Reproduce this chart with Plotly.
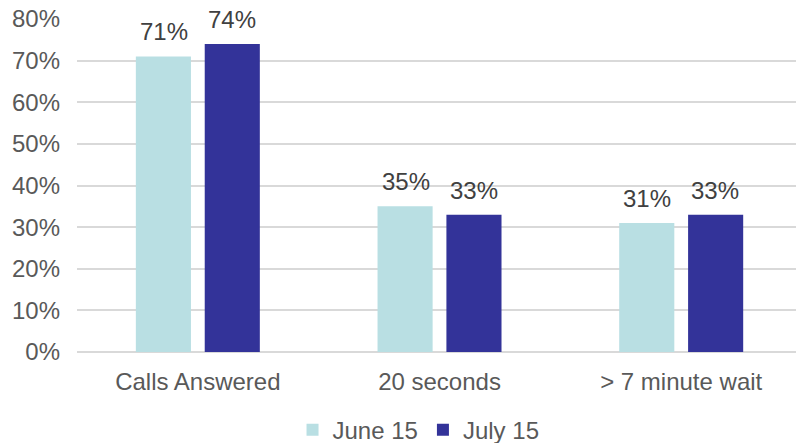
import plotly.graph_objects as go

categories = ["Calls Answered", "20 seconds", "> 7 minute wait"]
june_values = [71, 35, 31]
july_values = [74, 33, 33]
series_names = ["June 15", "July 15"]
tick_values = [0, 10, 20, 30, 40, 50, 60, 70, 80]
tick_labels = [f"{t}%" for t in tick_values]

FONT = "Liberation Sans, Arial, sans-serif"
colors = ["#B9DFE3", "#333399"]

fig = go.Figure()
for name, vals, col in zip(series_names, [june_values, july_values], colors):
    fig.add_trace(go.Bar(
        x=categories, y=vals, name=name, marker_color=col,
        marker_line_width=0, hoverinfo="skip",
    ))

# data labels above bars
offsets = [-34, 34]
for vals, dx in zip([june_values, july_values], offsets):
    for c, v in zip(categories, vals):
        fig.add_annotation(
            x=c, y=v, text=f"{v}%", showarrow=False,
            xshift=dx, yshift=9, yanchor="bottom",
            font=dict(family=FONT, size=24, color="#404040"),
        )

fig.update_layout(
    width=796, height=443,
    margin=dict(l=77, r=0, t=19, b=91, autoexpand=False),
    paper_bgcolor="white", plot_bgcolor="white",
    barmode="group", bargap=0.43, bargroupgap=0.2,
    font=dict(family=FONT, size=24, color="#595959"),
    showlegend=True,
    legend=dict(
        orientation="h", x=0.475, xanchor="center", y=-0.235, yanchor="middle",
        font=dict(family=FONT, size=24, color="#595959"),
        itemwidth=30, tracegroupgap=0,
    ),
)
fig.update_xaxes(
    type="category", range=[-0.5, 2.475], automargin=False,
    showgrid=False, showline=False, ticks="", ticklabelstandoff=13,
    tickfont=dict(family=FONT, size=24, color="#595959"),
)
fig.update_yaxes(
    range=[0, 80], tickvals=tick_values, ticktext=tick_labels, automargin=False,
    showgrid=True, gridcolor="#D9D9D9", gridwidth=1.5,
    zeroline=True, zerolinecolor="#D9D9D9", zerolinewidth=1.5,
    showline=False, ticks="", ticklabelstandoff=16,
    tickfont=dict(family=FONT, size=24, color="#595959"),
)

fig.write_html("out.html")
